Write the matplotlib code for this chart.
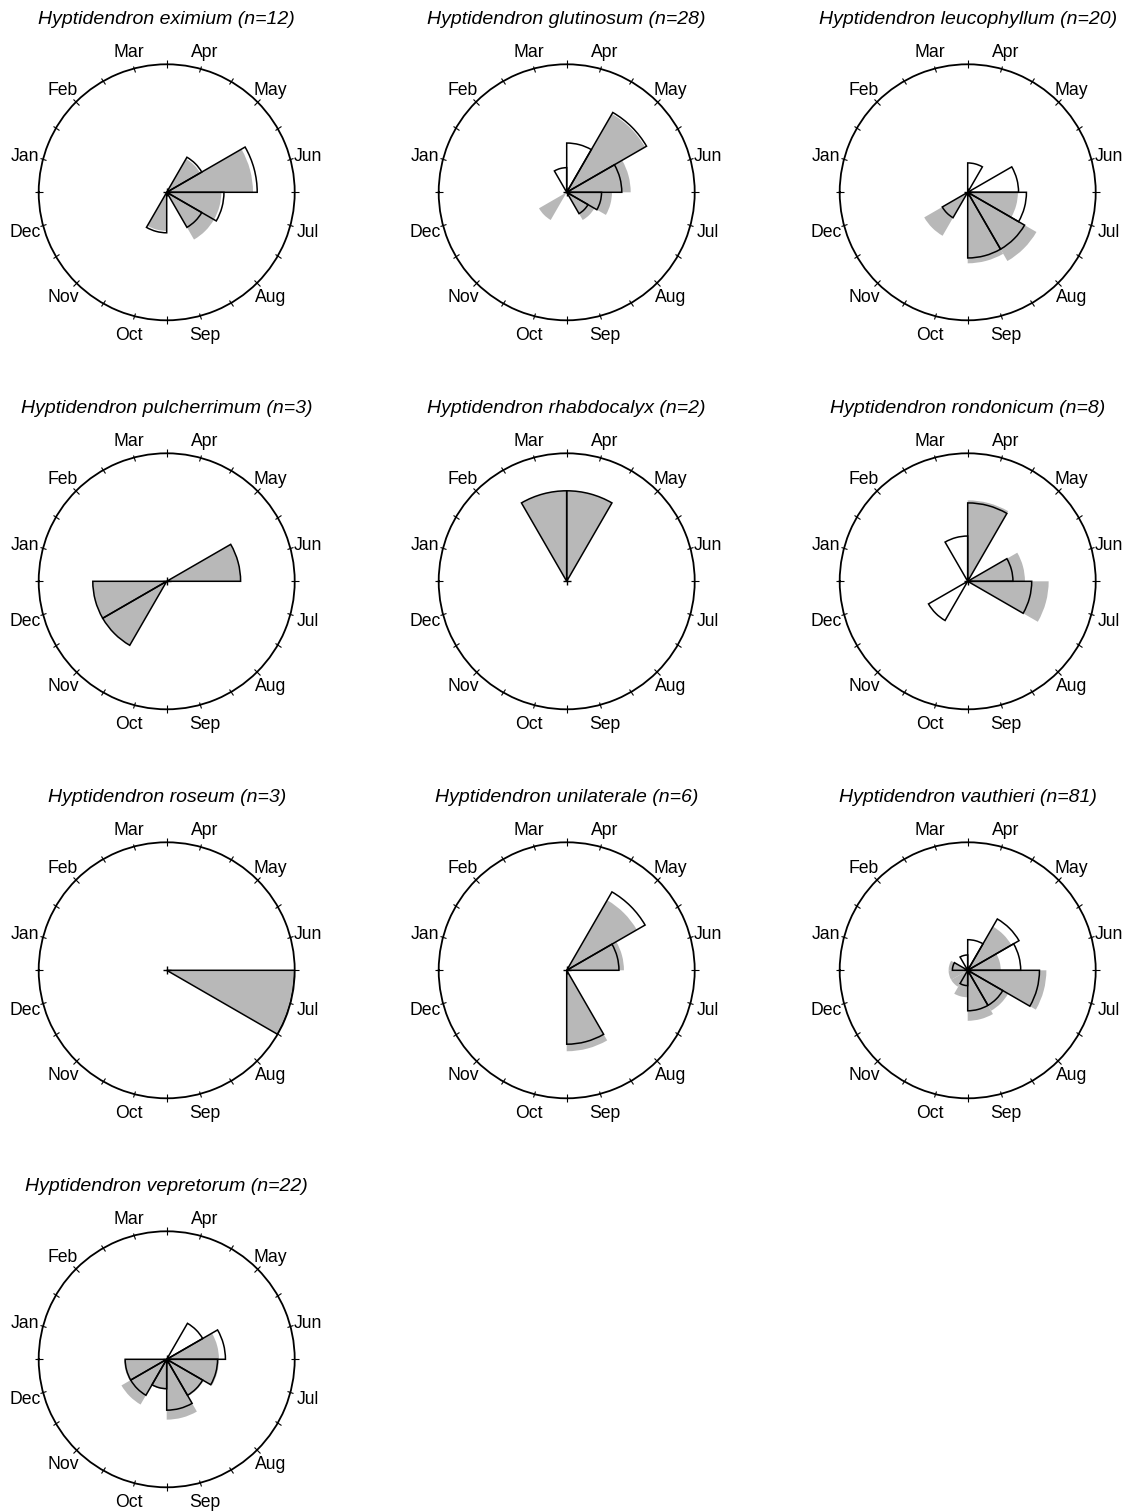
import numpy as np
import matplotlib
matplotlib.use('Agg')
import matplotlib.pyplot as plt

plt.rcParams['font.family'] = ['Liberation Sans', 'DejaVu Sans']

# ---------------- data ----------------
months = ['Jan', 'Feb', 'Mar', 'Apr', 'May', 'Jun',
          'Jul', 'Aug', 'Sep', 'Oct', 'Nov', 'Dec']

species = ['eximium', 'glutinosum', 'leucophyllum',
           'pulcherrimum', 'rhabdocalyx', 'rondonicum',
           'roseum', 'unilaterale', 'vauthieri',
           'vepretorum']
sample_sizes = [12, 28, 20, 3, 2, 8, 3, 6, 81, 22]

# monthly record counts (Jan..Dec); outlined series and grey series
eximium_outline      = [0, 0, 0, 0, 1, 5, 2, 1, 0, 1, 0, 0]
eximium_grey         = [0, 0, 0, 0, 1, 5, 2, 2, 0, 1, 0, 0]
glutinosum_outline   = [0, 0, 1, 4, 14, 5, 2, 1, 0, 0, 0, 0]
glutinosum_grey      = [0, 0, 0, 0, 8, 4, 2, 1, 0, 0, 1, 0]
leucophyllum_outline = [0, 0, 0, 1, 0, 3, 4, 5, 5, 0, 1, 0]
leucophyllum_grey    = [0, 0, 0, 0, 0, 0, 2, 5, 4, 0, 2, 0]
pulcherrimum_outline = [0, 0, 0, 0, 0, 1, 0, 0, 0, 0, 1, 1]
pulcherrimum_grey    = [0, 0, 0, 0, 0, 1, 0, 0, 0, 0, 1, 1]
rhabdocalyx_outline  = [0, 0, 1, 1, 0, 0, 0, 0, 0, 0, 0, 0]
rhabdocalyx_grey     = [0, 0, 1, 1, 0, 0, 0, 0, 0, 0, 0, 0]
rondonicum_outline   = [0, 0, 1, 3, 0, 1, 2, 0, 0, 0, 1, 0]
rondonicum_grey      = [0, 0, 0, 2, 0, 1, 2, 0, 0, 0, 0, 0]
roseum_outline       = [0, 0, 0, 0, 0, 0, 3, 0, 0, 0, 0, 0]
roseum_grey          = [0, 0, 0, 0, 0, 0, 3, 0, 0, 0, 0, 0]
unilaterale_outline  = [0, 0, 0, 0, 3, 1, 0, 0, 2, 0, 0, 0]
unilaterale_grey     = [0, 0, 0, 0, 2, 1, 0, 0, 2, 0, 0, 0]
vauthieri_outline    = [1, 0, 1, 4, 15, 12, 22, 7, 7, 1, 0, 0]
vauthieri_grey       = [1, 0, 0, 0, 7, 3, 17, 6, 7, 2, 1, 1]
vepretorum_outline   = [0, 0, 0, 0, 2, 4, 3, 2, 3, 1, 2, 2]
vepretorum_grey      = [0, 0, 0, 0, 0, 3, 3, 2, 4, 1, 3, 2]

outline_series = [eximium_outline, glutinosum_outline, leucophyllum_outline,
                  pulcherrimum_outline, rhabdocalyx_outline, rondonicum_outline,
                  roseum_outline, unilaterale_outline, vauthieri_outline,
                  vepretorum_outline]
grey_series = [eximium_grey, glutinosum_grey, leucophyllum_grey,
               pulcherrimum_grey, rhabdocalyx_grey, rondonicum_grey,
               roseum_grey, unilaterale_grey, vauthieri_grey,
               vepretorum_grey]

# ---------------- layout ----------------
W, H = 1130, 1512
fig = plt.figure(figsize=(W / 100, H / 100), dpi=100)
R = 128.0
col_x = [166.7, 566.7, 967.7]
row_y = [192.3, 581.3, 970.3, 1359.3]

GREY = '#b8b8b8'
width = 2 * np.pi / 12
theta = np.arange(12) * width


def fwd(x):
    return np.sqrt(np.clip(x, 0, None))


def inv(x):
    return np.square(x)


for k, (name, n, ol, gr) in enumerate(zip(species, sample_sizes,
                                          outline_series, grey_series)):
    r_i, c_i = divmod(k, 3)
    cx, cy = col_x[c_i], row_y[r_i]
    ax = fig.add_axes([(cx - R) / W, 1 - (cy + R) / H, 2 * R / W, 2 * R / H],
                      projection='polar')
    ax.set_theta_zero_location('W')
    ax.set_theta_direction(-1)
    ax.set_rscale('function', functions=(fwd, inv))
    ax.set_rlim(0, 1)

    ol = np.asarray(ol, float)
    gr = np.asarray(gr, float)
    p_ol = ol / ol.sum()
    p_gr = gr / gr.sum()
    mo = p_ol > 0
    mg = p_gr > 0

    ax.bar(theta[mo], p_ol[mo], width=width, align='edge',
           color='white', edgecolor='none', zorder=1)
    ax.bar(theta[mg], p_gr[mg], width=width, align='edge',
           color=GREY, edgecolor='none', zorder=2)
    ax.bar(theta[mo], p_ol[mo], width=width, align='edge',
           facecolor='none', edgecolor='black', linewidth=1.1, zorder=3)
    ax.plot([0], [0], marker='+', color='black', ms=6, mew=1.0,
            zorder=4, clip_on=False)

    ax.set_xticks(np.deg2rad(np.arange(0, 360, 15)))
    ax.set_xticklabels([])
    ax.tick_params(axis='x', which='both', direction='inout', length=2.6,
                   width=0.8, color='black', top=True, bottom=False,
                   labeltop=False, labelbottom=False)
    ax.set_yticks([])
    ax.grid(False)
    ax.spines['polar'].set_linewidth(1.3)

    for i, m in enumerate(months):
        a = np.deg2rad(165 - 30 * i)
        ax.text(0.5 + 0.5 * 1.145 * np.cos(a),
                0.5 + 0.5 * 1.145 * np.sin(a) - 2.0 / 256,
                m, transform=ax.transAxes, ha='center', va='center',
                fontsize=12.7)

    ax.text(0.5, 0.5 + 173 / 256, f'Hyptidendron {name} (n={n})',
            transform=ax.transAxes, ha='center', va='center',
            fontsize=14.0, style='italic')

fig.savefig('out.png', dpi=100)
